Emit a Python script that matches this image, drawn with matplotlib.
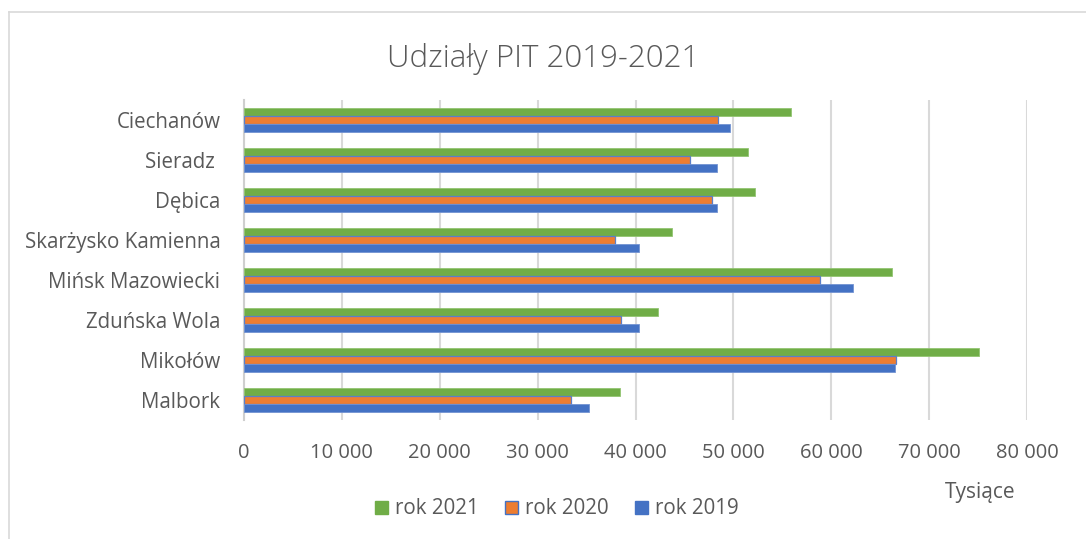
import matplotlib
matplotlib.use("Agg")
import matplotlib.pyplot as plt
from matplotlib.lines import Line2D
from matplotlib.patches import Patch
import numpy as np

categories = ["Ciechanów", "Sieradz ", "Dębica", "Skarżysko Kamienna",
              "Mińsk Mazowiecki", "Zduńska Wola", "Mikołów", "Malbork"]
rok_2021 = [55900, 51500, 52200, 43700, 66200, 42300, 75050, 38450]
rok_2020 = [48450, 45600, 47850, 37950, 58850, 38550, 66650, 33450]
rok_2019 = [49650, 48300, 48300, 40350, 62250, 40350, 66550, 35200]
xticks = [0, 10000, 20000, 30000, 40000, 50000, 60000, 70000, 80000]
xtick_labels = ["0", "10 000", "20 000", "30 000", "40 000", "50 000",
                "60 000", "70 000", "80 000"]
series_labels = ["rok 2021", "rok 2020", "rok 2019"]

FONT = "Open Sans"
TXT = "#595959"

W, H = 1086, 539
fig = plt.figure(figsize=(W / 100, H / 100), dpi=100)
fig.patch.set_facecolor("white")

# chart border (light gray)
fig.add_artist(Line2D([9 / W, 9 / W], [0, 1 - 12 / H], color="#d9d9d9", lw=1.2,
                      transform=fig.transFigure))
fig.add_artist(Line2D([9 / W, 1], [1 - 12 / H, 1 - 12 / H], color="#d9d9d9", lw=1.2,
                      transform=fig.transFigure))

left, right, top, bottom = 244, 1027, 100, 420
ax = fig.add_axes([left / W, 1 - bottom / H, (right - left) / W, (bottom - top) / H])

green = "#70ad47"
orange = "#ed7d31"
blue = "#4472c4"

y = np.arange(len(categories))
h = 0.2
ax.barh(y - h, rok_2021, height=h, color=green, edgecolor="#93c572", linewidth=0.6, zorder=3)
ax.barh(y, rok_2020, height=h, color=orange, edgecolor="#5b7fc9", linewidth=0.9, zorder=3)
ax.barh(y + h, rok_2019, height=h, color=blue, edgecolor="#7393d2", linewidth=0.6, zorder=3)

ax.set_ylim(len(categories) - 0.5, -0.5)
ax.set_xlim(0, 80000)
ax.set_xticks(xticks)
ax.set_xticklabels(xtick_labels, fontfamily=FONT, fontsize=14.5, color=TXT)
ax.set_yticks(y)
ax.set_yticklabels(categories, fontfamily=FONT, fontsize=14.8, color=TXT)
ax.tick_params(axis="x", length=0, pad=16.5)
ax.tick_params(axis="y", length=0, pad=17)
ax.grid(axis="x", color="#d9d9d9", lw=1.5, zorder=0)
for s in ["top", "right", "bottom"]:
    ax.spines[s].set_visible(False)
ax.spines["left"].set_color("#cfcfcf")
ax.spines["left"].set_linewidth(1.5)
ax.spines["left"].set_zorder(2)

fig.text(543 / W, 1 - 67 / H, "Udziały PIT 2019-2021", ha="center", va="baseline",
         fontfamily=FONT, fontweight="light", fontsize=22.5, color=TXT)
fig.text(980 / W, 1 - 498 / H, "Tysiące", ha="center", va="baseline",
         fontfamily=FONT, fontsize=15, color=TXT)

handles = [Patch(facecolor=green, edgecolor=green),
           Patch(facecolor=orange, edgecolor="#4472c4", linewidth=1.0),
           Patch(facecolor=blue, edgecolor=blue)]
leg = fig.legend(handles, series_labels, loc="center",
                 bbox_to_anchor=(557 / W, 1 - 509 / H), ncol=3, frameon=False,
                 prop={"family": FONT, "size": 14.8},
                 handlelength=0.6, handleheight=0.6, handletextpad=0.35,
                 columnspacing=1.3, borderpad=0, borderaxespad=0)
for t in leg.get_texts():
    t.set_color(TXT)

fig.savefig("out.png", dpi=100, facecolor="white")
